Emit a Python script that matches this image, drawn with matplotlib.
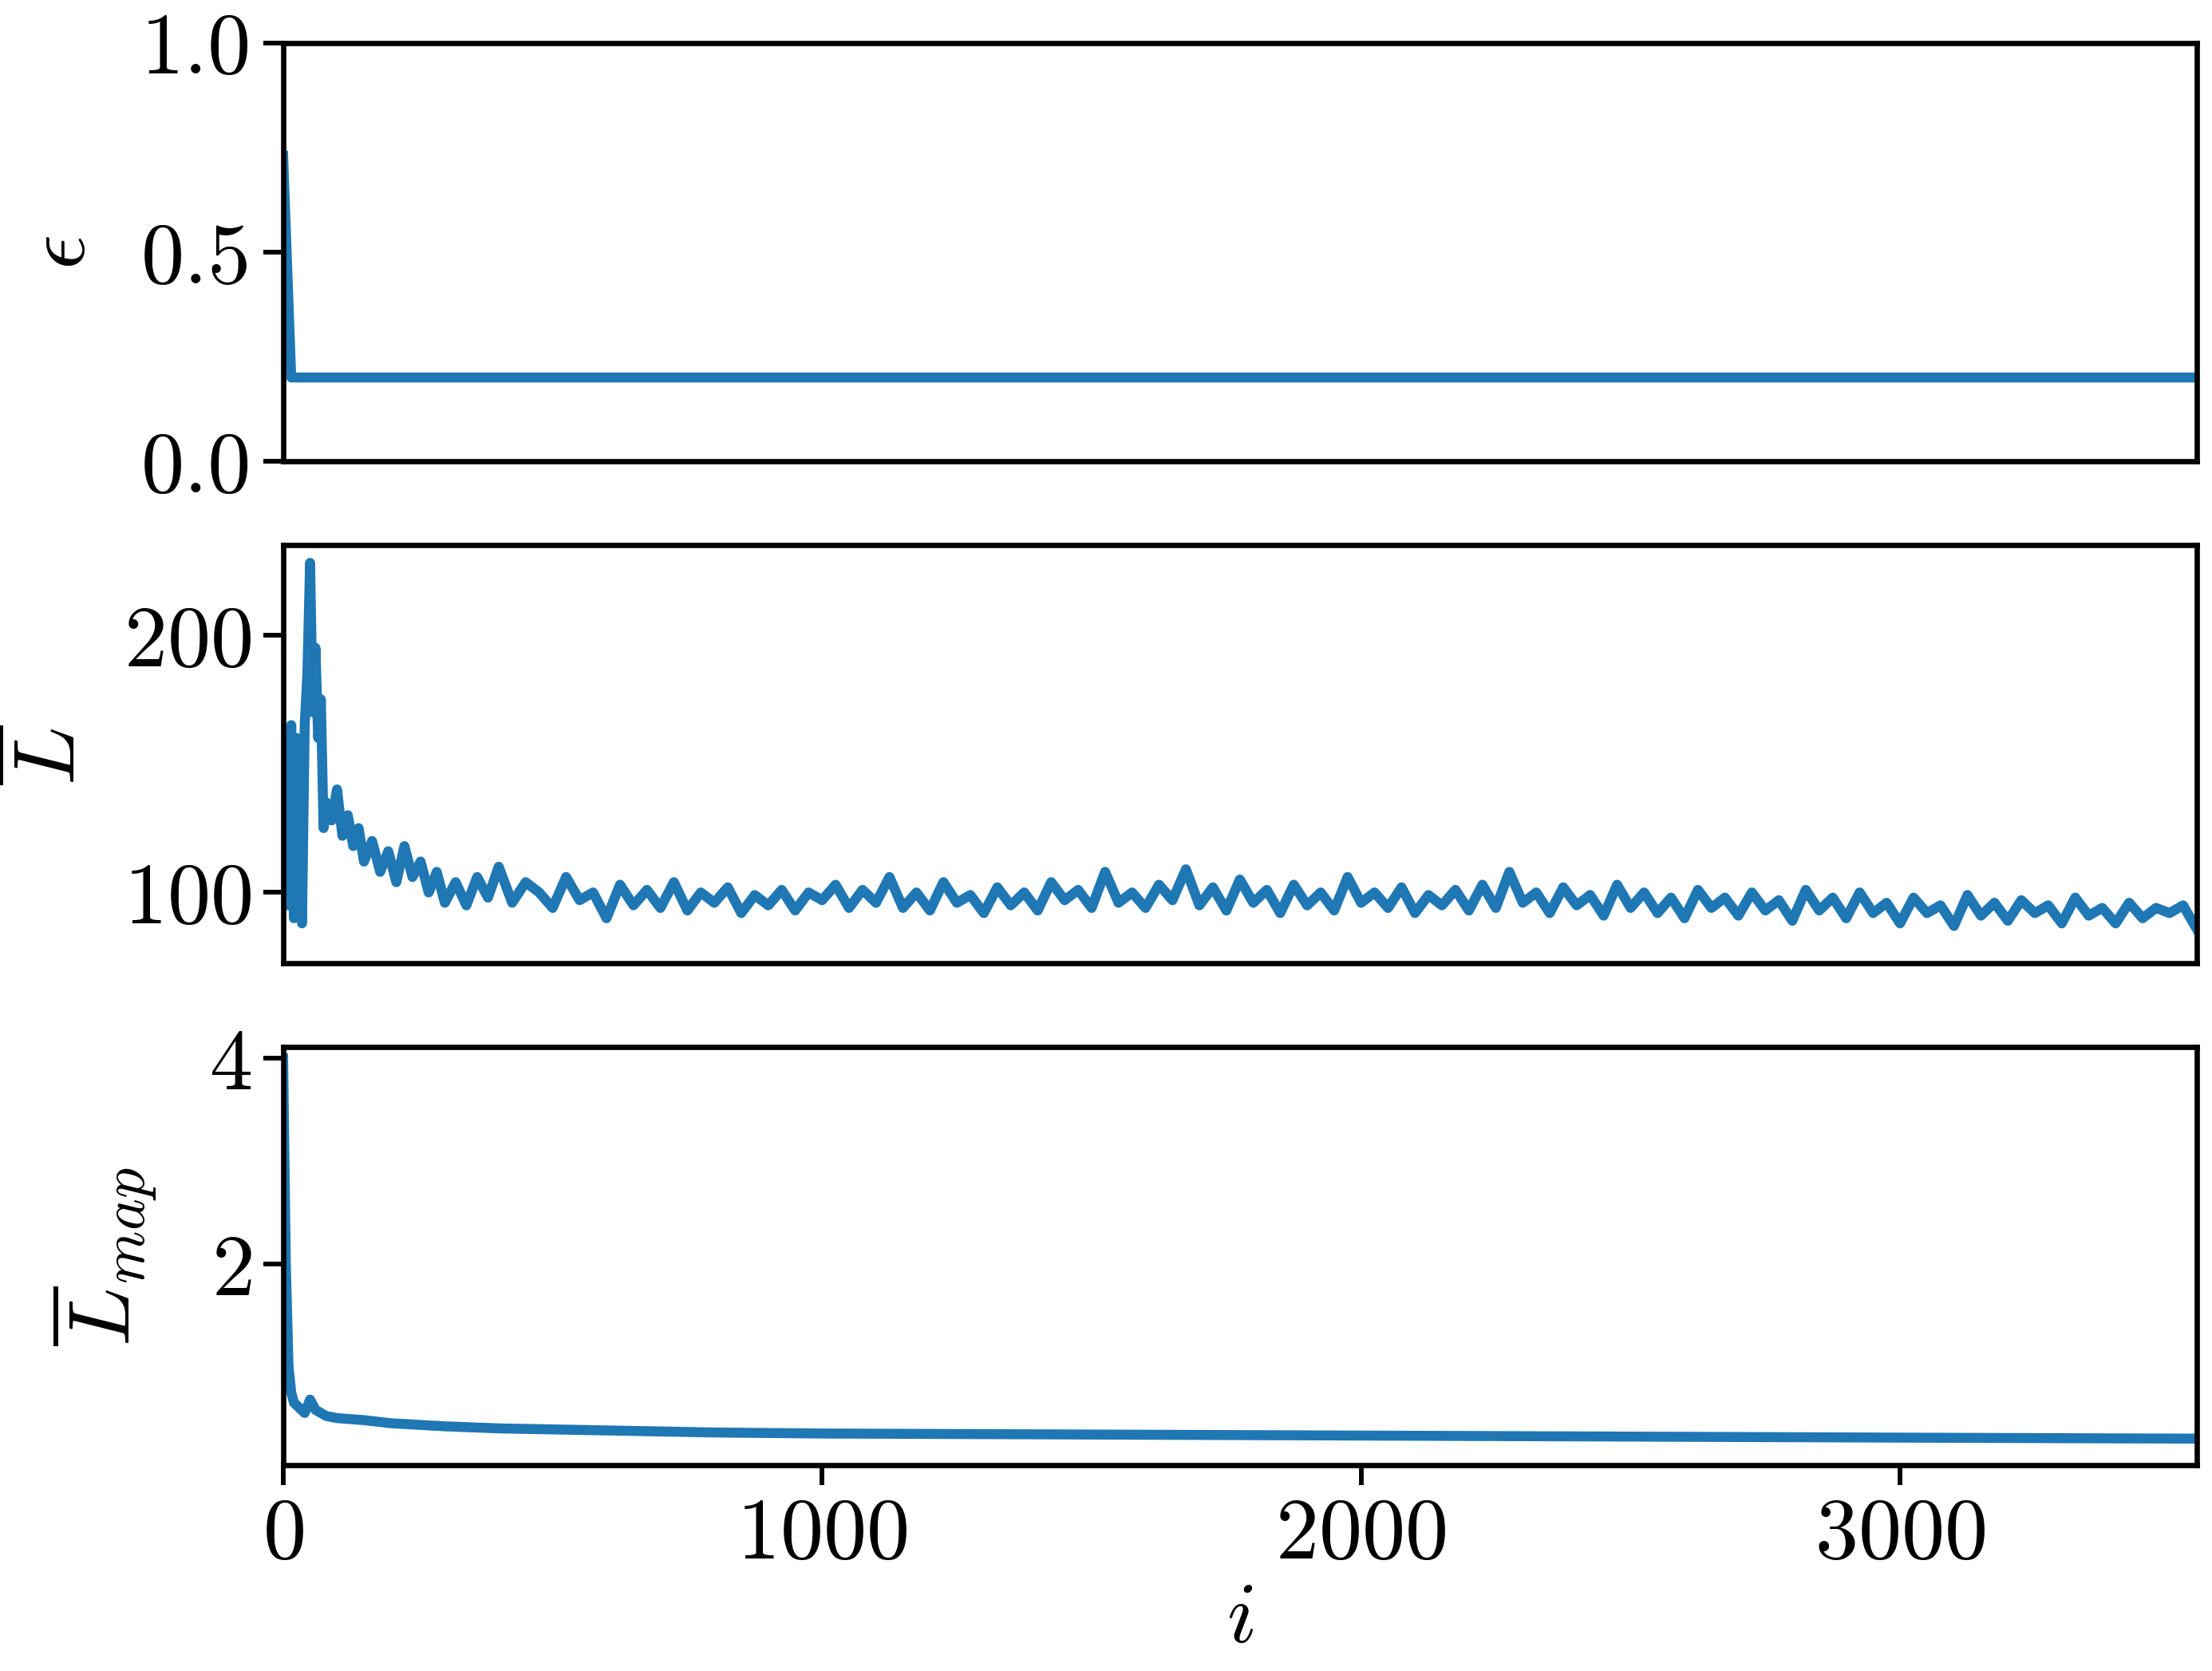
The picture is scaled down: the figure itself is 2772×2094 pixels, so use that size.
import numpy as np
import matplotlib
matplotlib.use("Agg")
import matplotlib.pyplot as plt

plt.rcParams.update({
    "font.family": "serif", "font.serif": ["cmr10"], "mathtext.fontset": "cm",
    "axes.formatter.use_mathtext": True, "font.size": 26, "axes.linewidth": 1.6,
    "xtick.major.width": 1.4, "ytick.major.width": 1.4,
    "xtick.major.size": 6, "ytick.major.size": 6,
})

eps_i = [0, 15, 3550]
eps_v = [0.73, 0.2, 0.2]

L_i = [0, 5, 10, 15, 20, 25, 30, 35, 40, 45, 50, 55, 60, 65, 70, 75, 80, 90, 100, 110, 120, 130,
       140, 150, 165, 180, 195, 210, 225, 240, 255, 270, 285, 300, 320, 340, 360, 380, 400, 425,
       450, 475, 500, 525, 550, 575, 600, 625, 650, 675, 700, 725, 750, 775, 800, 825, 850, 875,
       900, 925, 950, 975, 1000, 1025, 1050, 1075, 1100, 1125, 1150, 1175, 1200, 1225, 1250, 1275,
       1300, 1325, 1350, 1375, 1400, 1425, 1450, 1475, 1500, 1525, 1550, 1575, 1600, 1625, 1650,
       1675, 1700, 1725, 1750, 1775, 1800, 1825, 1850, 1875, 1900, 1925, 1950, 1975, 2000, 2025,
       2050, 2075, 2100, 2125, 2150, 2175, 2200, 2225, 2250, 2275, 2300, 2325, 2350, 2375, 2400,
       2425, 2450, 2475, 2500, 2525, 2550, 2575, 2600, 2625, 2650, 2675, 2700, 2725, 2750, 2775,
       2800, 2825, 2850, 2875, 2900, 2925, 2950, 2975, 3000, 3025, 3050, 3075, 3100, 3125, 3150,
       3175, 3200, 3225, 3250, 3275, 3300, 3325, 3350, 3375, 3400, 3425, 3450, 3475, 3500, 3525, 3550]
L_v = [100, 160, 95, 165, 90, 160, 130, 88, 165, 185, 228, 170, 195, 160, 175, 125, 135, 128, 140,
       122, 130, 118, 125, 112, 120, 108, 116, 104, 118, 106, 112, 100, 108, 96, 104, 95, 106, 98,
       110, 96, 104, 100, 94, 106, 97, 100, 90, 103, 95, 101, 94, 104, 93, 100, 96, 102, 92, 99,
       95, 101, 93, 100, 97, 103, 94, 101, 96, 106, 94, 100, 93, 104, 96, 99, 92, 102, 95, 100,
       93, 104, 97, 101, 94, 108, 96, 100, 94, 103, 97, 109, 95, 102, 93, 105, 96, 101, 92, 103,
       95, 100, 93, 106, 96, 100, 94, 102, 92, 99, 95, 101, 93, 103, 94, 108, 96, 100, 92, 102,
       95, 99, 91, 103, 94, 100, 92, 98, 90, 101, 94, 98, 91, 100, 93, 97, 89, 101, 93, 98, 90,
       100, 92, 96, 88, 98, 92, 95, 87, 99, 91, 96, 89, 97, 92, 95, 88, 98, 91, 94, 88, 96, 90, 94,
       92, 95, 86]

M_i = [0, 5, 10, 15, 20, 30, 40, 50, 60, 80, 100, 150, 200, 300, 400, 600, 800, 1000, 1500, 2000,
       2500, 3000, 3550]
M_v = [4.0, 2.0, 1.0, 0.75, 0.65, 0.6, 0.55, 0.68, 0.58, 0.52, 0.5, 0.48, 0.45, 0.42, 0.4, 0.38,
       0.36, 0.35, 0.34, 0.33, 0.32, 0.31, 0.3]

c = "#1f77b4"
fig, axs = plt.subplots(3, 1, figsize=(9.24, 6.983), dpi=300, sharex=True)
fig.subplots_adjust(left=0.128, right=0.993, top=0.974, bottom=0.123, hspace=0.2)
axs[0].plot(eps_i, eps_v, color=c, lw=3)
axs[0].set_ylim(0, 1)
axs[0].set_yticks([0, 0.5, 1.0])
axs[0].set_yticklabels(["0.0", "0.5", "1.0"])
axs[0].set_ylabel(r"$\epsilon$")
axs[1].plot(L_i, L_v, color=c, lw=3)
axs[1].set_ylim(72.5, 235)
axs[1].set_yticks([100, 200])
axs[1].set_ylabel(r"$\overline{L}$")
axs[2].plot(M_i, M_v, color=c, lw=3)
axs[2].set_ylim(0.04, 4.11)
axs[2].set_yticks([2, 4])
axs[2].set_ylabel(r"$\overline{L}_{map}$")
axs[2].set_xlim(0, 3550)
axs[2].set_xticks([0, 1000, 2000, 3000])
axs[2].set_xlabel(r"$i$", labelpad=2)
for a in axs[:2]:
    a.tick_params(axis="x", length=0)
axs[0].yaxis.set_label_coords(-0.095, 0.5)
axs[1].yaxis.set_label_coords(-0.1, 0.5)
axs[2].yaxis.set_label_coords(-0.065, 0.5)
fig.savefig("out.png", dpi=300)
